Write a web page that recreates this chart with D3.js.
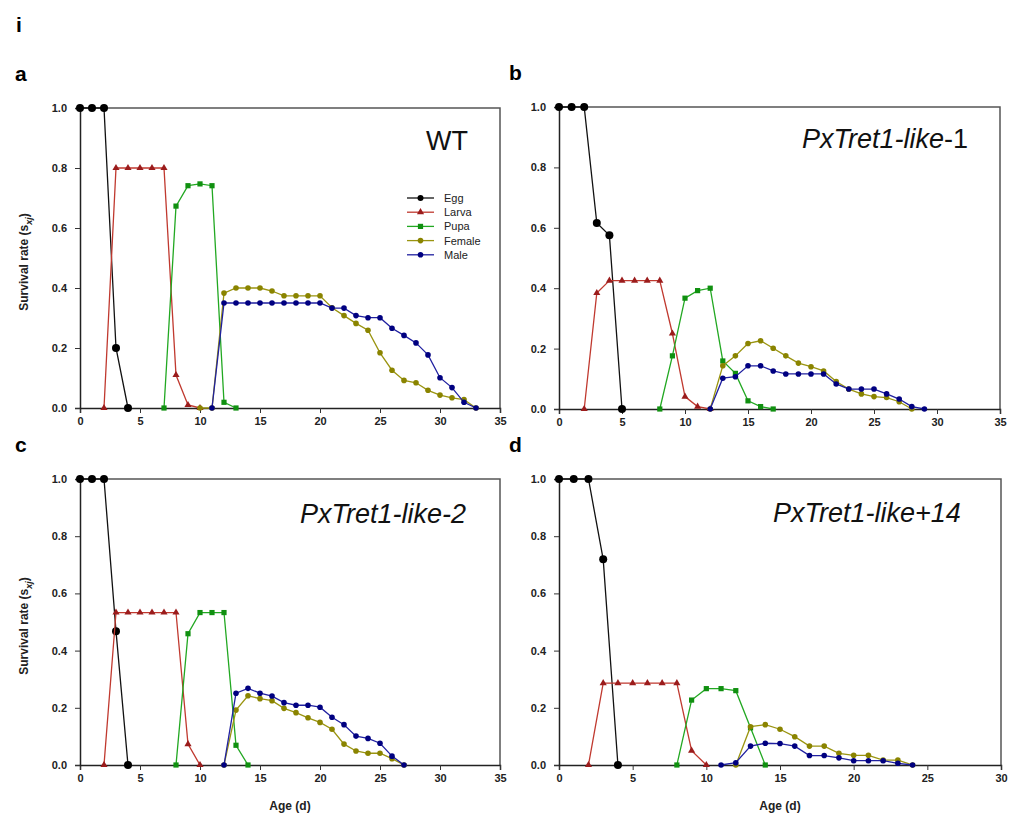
<!DOCTYPE html>
<html>
<head>
<meta charset="utf-8">
<script src="https://cdn.jsdelivr.net/npm/d3@7"></script>
<style>
  body { margin: 0; background: #fff; }
  svg { font-family: Arial, "Liberation Sans", sans-serif; }
  .tick text { font-weight: bold; font-size: 11px; fill: #222; }
</style>
</head>
<body>
<svg id="chart" width="1024" height="821"></svg>
<script>
// ---- data: [day, survival rate] ----
var stages = ["Egg", "Larva", "Pupa", "Female", "Male"];

var wtEgg    = [[0,1],[1,1],[2,1],[3,0.2],[4,0]];
var wtLarva  = [[2,0],[3,0.8],[4,0.8],[5,0.8],[6,0.8],[7,0.8],[8,0.11],[9,0.01],[10,0]];
var wtPupa   = [[7,0],[8,0.673],[9,0.741],[10,0.747],[11,0.741],[12,0.019],[13,0]];
var wtFemale = [[10,0],[11,0],[12,0.383],[13,0.4],[14,0.4],[15,0.4],[16,0.39],[17,0.374],[18,0.374],[19,0.374],[20,0.374],
                [21,0.334],[22,0.308],[23,0.282],[24,0.259],[25,0.184],[26,0.126],[27,0.092],[28,0.084],[29,0.059],[30,0.043],[31,0.034],[32,0.028],[33,0]];
var wtMale   = [[11,0],[12,0.35],[13,0.35],[14,0.35],[15,0.35],[16,0.35],[17,0.35],[18,0.35],[19,0.35],[20,0.35],
                [21,0.333],[22,0.333],[23,0.308],[24,0.301],[25,0.301],[26,0.266],[27,0.242],[28,0.217],[29,0.177],[30,0.101],[31,0.068],[32,0.019],[33,0]];

var l1Egg    = [[0,1],[1,1],[2,1],[3,0.616],[4,0.575],[5,0]];
var l1Larva  = [[2,0],[3,0.384],[4,0.425],[5,0.425],[6,0.425],[7,0.425],[8,0.425],[9,0.25],[10,0.041],[11,0.008],[12,0]];
var l1Pupa   = [[8,0],[9,0.176],[10,0.367],[11,0.392],[12,0.4],[13,0.159],[14,0.118],[15,0.027],[16,0.008],[17,0]];
var l1Female = [[12,0],[13,0.143],[14,0.176],[15,0.217],[16,0.226],[17,0.201],[18,0.176],[19,0.152],[20,0.14],[21,0.126],
                [22,0.091],[23,0.066],[24,0.05],[25,0.041],[26,0.038],[27,0.024],[28,0]];
var l1Male   = [[12,0],[13,0.102],[14,0.107],[15,0.143],[16,0.143],[17,0.126],[18,0.116],[19,0.116],[20,0.116],[21,0.116],
                [22,0.083],[23,0.066],[24,0.066],[25,0.066],[26,0.05],[27,0.033],[28,0.008],[29,0]];

var l2Egg    = [[0,1],[1,1],[2,1],[3,0.468],[4,0]];
var l2Larva  = [[2,0],[3,0.533],[4,0.533],[5,0.533],[6,0.533],[7,0.533],[8,0.533],[9,0.073],[10,0]];
var l2Pupa   = [[8,0],[9,0.459],[10,0.533],[11,0.533],[12,0.533],[13,0.069],[14,0]];
var l2Female = [[12,0],[13,0.192],[14,0.242],[15,0.232],[16,0.225],[17,0.198],[18,0.183],[19,0.165],[20,0.149],[21,0.125],
                [22,0.073],[23,0.049],[24,0.041],[25,0.041],[26,0.022],[27,0]];
var l2Male   = [[12,0],[13,0.251],[14,0.268],[15,0.251],[16,0.241],[17,0.218],[18,0.209],[19,0.209],[20,0.202],[21,0.167],
                [22,0.141],[23,0.101],[24,0.093],[25,0.076],[26,0.031],[27,0]];

var p14Egg    = [[0,1],[1,1],[2,1],[3,0.719],[4,0]];
var p14Larva  = [[2,0],[3,0.286],[4,0.286],[5,0.286],[6,0.286],[7,0.286],[8,0.286],[9,0.05],[10,0]];
var p14Pupa   = [[8,0],[9,0.227],[10,0.267],[11,0.267],[12,0.26],[13,0.13],[14,0]];
var p14Female = [[12,0],[13,0.134],[14,0.141],[15,0.125],[16,0.099],[17,0.066],[18,0.066],[19,0.041],[20,0.034],[21,0.034],
                 [22,0.017],[23,0.017],[24,0]];
var p14Male   = [[11,0],[12,0.008],[13,0.066],[14,0.076],[15,0.075],[16,0.066],[17,0.033],[18,0.033],[19,0.025],[20,0.015],
                 [21,0.015],[22,0.015],[23,0.006],[24,0]];

var xTicks35 = [0,5,10,15,20,25,30,35];
var xTicks30 = [0,5,10,15,20,25,30];
var yTicks = [0,0.2,0.4,0.6,0.8,1.0];

// ---- style ----
var lineColor = { Egg:"#111", Larva:"#c0392f", Pupa:"#22a822", Female:"#9a9410", Male:"#2020a0" };
var markColor = { Egg:"#000", Larva:"#9b1c1c", Pupa:"#109010", Female:"#8a8400", Male:"#000080" };

var panels = [
  { letter:"a", lx:15,  x0:80,  x1:500,  y0:408, y1:108, xmax:35, ticks:xTicks35, series:[wtEgg,wtLarva,wtPupa,wtFemale,wtMale],
    ylab:true, xlab:false, legend:true, title:[{t:"WT",i:false}], tx:468, ty:150, anchor:"end" },
  { letter:"b", lx:509, x0:559, x1:1000, y0:409, y1:107, xmax:35, ticks:xTicks35, series:[l1Egg,l1Larva,l1Pupa,l1Female,l1Male],
    ylab:false, xlab:false, legend:false, title:[{t:"PxTret1-like",i:true},{t:"-1",i:false}], tx:802, ty:148, anchor:"start" },
  { letter:"c", lx:15,  x0:80,  x1:500,  y0:765, y1:479, xmax:35, ticks:xTicks35, series:[l2Egg,l2Larva,l2Pupa,l2Female,l2Male],
    ylab:true, xlab:true, legend:false, title:[{t:"PxTret1-like-2",i:true}], tx:300, ty:523, anchor:"start" },
  { letter:"d", lx:509, x0:559, x1:1001, y0:765, y1:479, xmax:30, ticks:xTicks30, series:[p14Egg,p14Larva,p14Pupa,p14Female,p14Male],
    ylab:false, xlab:true, legend:false, title:[{t:"PxTret1-like+14",i:true}], tx:773, ty:522, anchor:"start" }
];

var svg = d3.select("#chart");

svg.append("text").attr("x", 16).attr("y", 32).text("i")
  .style("font-size", "21px").style("font-weight", "bold");

function marker(g, stage, x, y, small) {
  var c = markColor[stage];
  if (stage === "Egg") {
    g.append("circle").attr("cx", x).attr("cy", y).attr("r", small ? 3 : 4).attr("fill", c);
  } else if (stage === "Larva") {
    g.append("path").attr("d", d3.symbol(d3.symbolTriangle, 22)()).attr("transform", "translate(" + x + "," + y + ")").attr("fill", c);
  } else if (stage === "Pupa") {
    g.append("rect").attr("x", x - 2.6).attr("y", y - 2.6).attr("width", 5.2).attr("height", 5.2).attr("fill", c);
  } else {
    g.append("circle").attr("cx", x).attr("cy", y).attr("r", 2.8).attr("fill", c);
  }
}

panels.forEach(function(p) {
  var x = d3.scaleLinear().domain([0, p.xmax]).range([p.x0, p.x1]);
  var y = d3.scaleLinear().domain([0, 1]).range([p.y0, p.y1]);
  var g = svg.append("g");

  svg.append("text").attr("x", p.lx).attr("y", p.y1 - 27).text(p.letter)
    .style("font-size", "21px").style("font-weight", "bold");

  // frame (top / right)
  g.append("path")
    .attr("d", "M" + p.x0 + "," + p.y1 + "H" + p.x1 + "V" + p.y0)
    .attr("fill", "none").attr("stroke", "#555").attr("stroke-width", 1.5);

  var xa = g.append("g").attr("transform", "translate(0," + p.y0 + ")")
    .call(d3.axisBottom(x).tickValues(p.ticks).tickSize(5).tickPadding(4).tickFormat(d3.format("d")));
  var ya = g.append("g").attr("transform", "translate(" + p.x0 + ",0)")
    .call(d3.axisLeft(y).tickValues(yTicks).tickSize(5).tickPadding(8).tickFormat(d3.format(".1f")));
  [xa, ya].forEach(function(a) {
    a.select(".domain").attr("stroke", "#222").attr("stroke-width", 1.5);
    a.selectAll(".tick line").attr("stroke", "#333");
  });

  if (p.ylab) {
    var yl = svg.append("text")
      .attr("transform", "translate(" + (p.x0 - 52) + "," + ((p.y0 + p.y1) / 2 + 4) + ") rotate(-90)")
      .attr("text-anchor", "middle").style("font-size", "12px").style("font-weight", "bold").attr("fill", "#222");
    yl.append("tspan").text("Survival rate (s");
    yl.append("tspan").text("xj").attr("dy", 4).style("font-size", "9px").style("font-style", "italic");
    yl.append("tspan").text(")").attr("dy", -4);
  }
  if (p.xlab) {
    svg.append("text").attr("x", (p.x0 + p.x1) / 2).attr("y", 810).attr("text-anchor", "middle")
      .style("font-size", "12px").style("font-weight", "bold").attr("fill", "#222").text("Age (d)");
  }

  var line = d3.line().x(function(d) { return x(d[0]); }).y(function(d) { return y(d[1]); });
  p.series.forEach(function(s, i) {
    var st = stages[i];
    g.append("path").datum(s).attr("d", line)
      .attr("fill", "none").attr("stroke", lineColor[st]).attr("stroke-width", 1.3);
    s.forEach(function(d) { marker(g, st, x(d[0]), y(d[1]), false); });
  });

  var tt = svg.append("text").attr("x", p.tx).attr("y", p.ty).attr("text-anchor", p.anchor)
    .style("font-size", "27px").attr("fill", "#111");
  p.title.forEach(function(part) {
    tt.append("tspan").text(part.t).style("font-style", part.i ? "italic" : "normal");
  });

  if (p.legend) {
    var lg = svg.append("g");
    stages.forEach(function(st, i) {
      var ly = 198 + i * 14.2;
      lg.append("line").attr("x1", 407).attr("x2", 434).attr("y1", ly).attr("y2", ly)
        .attr("stroke", lineColor[st]).attr("stroke-width", 1.3);
      marker(lg, st, 420.5, ly, true);
      lg.append("text").attr("x", 444).attr("y", ly + 4).text(st).style("font-size", "11px").attr("fill", "#222");
    });
  }
});
</script>
</body>
</html>
